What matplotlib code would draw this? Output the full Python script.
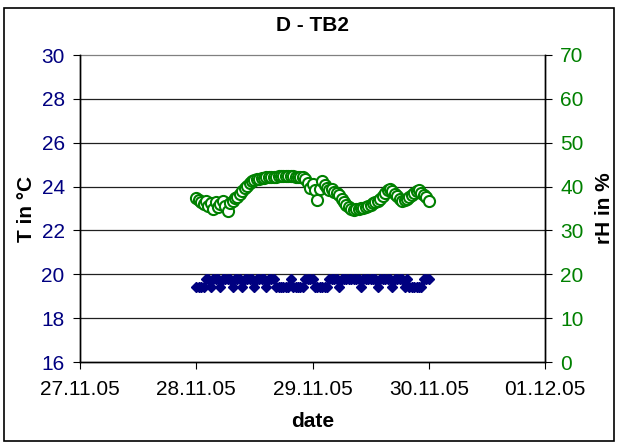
import numpy as np
import matplotlib.pyplot as plt
from matplotlib.patches import Rectangle

plt.rcParams['font.family'] = ['Liberation Sans', 'DejaVu Sans']

# axis ticks
date_labels = ['27.11.05', '28.11.05', '29.11.05', '30.11.05', '01.12.05']
t_ticks = [16, 18, 20, 22, 24, 26, 28, 30]
rh_ticks = [0, 10, 20, 30, 40, 50, 60, 70]

# half-hourly readings from 28.11.05 00:00 to 30.11.05 00:00
rh = [37.5, 37.0, 36.5, 36.0, 36.8, 35.6, 36.2, 35.0, 36.5, 35.3, 36.0, 36.6, 35.5, 34.4, 36.2, 36.8, 37.4,
      37.6, 38.2, 39.0, 39.6, 40.2, 40.8, 41.2, 41.5,
      41.7, 41.8, 41.9, 42.0, 42.1, 42.1, 42.2, 42.2, 42.2, 42.3, 42.3, 42.3, 42.3, 42.3, 42.3, 42.3,
      42.2, 42.2, 42.2, 42.1, 41.8,
      40.8, 39.7, 40.5, 39.2, 36.9, 39.5, 41.2, 40.4, 39.6, 39.2, 39.5, 38.8, 38.6, 38.0, 37.2, 36.5,
      35.8, 35.3, 35.0, 34.7, 34.8, 35.0, 35.1, 35.2, 35.3,
      35.6, 35.9, 36.3, 36.5, 36.8, 37.2, 37.8, 38.5, 39.2, 39.5,
      39.0, 38.4, 37.8, 37.2, 36.8, 36.9, 37.2, 37.6, 38.0, 38.5, 39.0, 39.2, 38.6, 38.0, 37.6, 36.8]

temp = [19.4, 19.4, 19.4, 19.4, 19.8, 19.8, 19.4, 19.8, 19.8, 19.8, 19.4, 19.8, 19.8, 19.8, 19.8, 19.4,
        19.8, 19.8, 19.8, 19.4, 19.8, 19.8, 19.8, 19.8, 19.4, 19.8, 19.8, 19.8, 19.8, 19.4, 19.8, 19.8,
        19.8, 19.4, 19.4, 19.4, 19.4, 19.4, 19.4, 19.8, 19.4, 19.4, 19.4, 19.4, 19.4, 19.8, 19.8, 19.8,
        19.8, 19.4, 19.4, 19.4, 19.4, 19.4, 19.4, 19.8, 19.8, 19.8, 19.8, 19.4, 19.8, 19.8, 19.8, 19.8,
        19.8, 19.8, 19.8, 19.8, 19.4, 19.8, 19.8, 19.8, 19.8, 19.8, 19.8, 19.4, 19.8, 19.8, 19.8, 19.8,
        19.8, 19.4, 19.8, 19.8, 19.8, 19.8, 19.4, 19.8, 19.4, 19.4, 19.4, 19.4, 19.4, 19.4, 19.8, 19.8,
        19.8]

days = 1 + np.arange(len(rh)) / 48.0

navy = '#000080'
green = '#008000'

fig = plt.figure(figsize=(6.18, 4.45), dpi=100)
ax = fig.add_axes([80 / 618, 83 / 445, 465 / 618, 307 / 445])
ax2 = ax.twinx()

ax.set_xlim(0, 4)
ax.set_ylim(16, 30)
ax2.set_ylim(0, 70)

# horizontal gridlines
for t in t_ticks[1:]:
    ax.axhline(t, color='#202020' if t < 30 else '#808080', lw=0.9, zorder=0, clip_on=False)

ax.plot(days, temp, linestyle='none', marker='D', ms=5.5, color=navy, mec=navy, zorder=3)
ax2.plot(days, rh, linestyle='none', marker='o', ms=8, mfc='white', mec=green, mew=1.5, zorder=3)

ax.set_xticks(range(5))
ax.set_xticklabels(date_labels)
ax.set_yticks(t_ticks)
ax2.set_yticks(rh_ticks)

for a in (ax, ax2):
    a.spines['top'].set_visible(False)
    for s in a.spines.values():
        s.set_color('black')
        s.set_linewidth(1.0)
ax.tick_params(axis='x', direction='out', length=5, labelsize=15, pad=8)
ax.tick_params(axis='y', direction='out', length=5, labelsize=15, labelcolor=navy, pad=6)
ax2.tick_params(axis='y', direction='out', length=5, labelsize=15, labelcolor=green, pad=6)

ax.set_title('D - TB2', fontsize=15, fontweight='bold', pad=17)
ax.set_xlabel('date', fontsize=15, fontweight='bold', labelpad=9)
ax.set_ylabel('T in °C', fontsize=15, fontweight='bold', labelpad=4)
ax2.set_ylabel('rH in %', fontsize=15, fontweight='bold', labelpad=8)

# outer chart frame
fig.patches.append(Rectangle((4 / 618, 4 / 445), 610 / 618, 433 / 445, transform=fig.transFigure,
                             fill=False, edgecolor='black', lw=1.2))

fig.savefig('out.png', dpi=100)
